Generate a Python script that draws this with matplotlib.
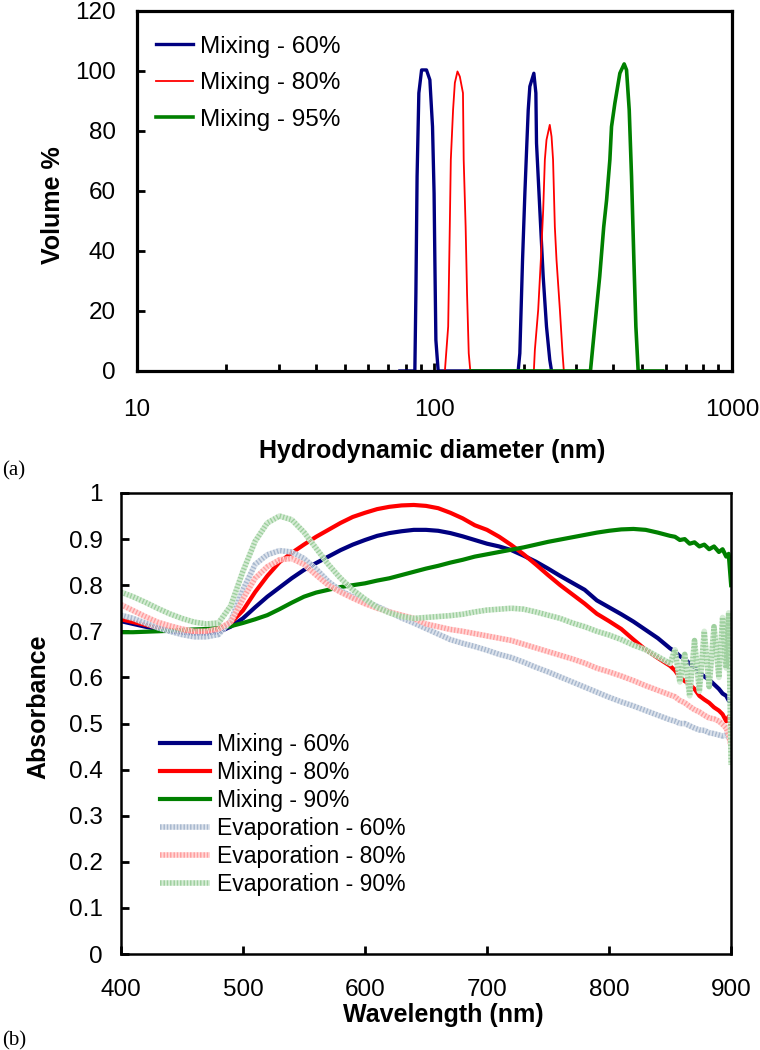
import matplotlib
matplotlib.use("Agg")
import matplotlib.pyplot as plt
import numpy as np

plt.rcParams['font.family'] = ['Liberation Sans', 'DejaVu Sans']

# ---------------- (a) DLS size distributions ----------------
size_60 = [76.6, 86.0, 86.7, 87.5, 88.7, 90.6, 94.1, 96.6, 98.6, 99.8, 100.4, 101.2, 103.0,
           191.3, 193.8, 197.9, 201.5, 204.2, 206.8, 209.4, 216.0, 219.4, 220.5, 226.2,
           232.2, 238.2, 244.3, 247.7]
vol_60 = [0, 0, 25.9, 64.8, 92.6, 100.3, 100.3, 97.0, 81.4, 59.2, 37.0, 10.3, 0,
          0, 5.9, 37.0, 59.2, 73.7, 87.0, 94.8, 99.2, 92.6, 75.9, 53.7,
          31.4, 14.8, 3.7, 0]

size_80 = [100.5, 108.5, 111.3, 112.7, 113.6, 115.6, 117.2, 119.6, 121.8, 124.8, 125.5,
           127.4, 128.8, 130.5, 132.1,
           216.0, 217.7, 223.4, 228.0, 232.2, 235.2, 238.2, 244.3, 247.7, 250.6, 254.1,
           257.4, 264.2, 269.7, 272.4]
vol_80 = [0, 0, 14.8, 48.0, 70.4, 87.0, 96.0, 99.8, 98.1, 92.6, 70.4,
          48.0, 25.9, 5.9, 0,
          0, 7.0, 20.4, 37.0, 53.7, 70.4, 77.0, 82.0, 78.1, 70.4, 48.0,
          37.0, 20.4, 5.9, 0]

size_95 = [132.0, 334.7, 346.0, 359.5, 370.9, 379.2, 389.0, 394.0, 404.3, 420.3, 434.5,
           442.5, 451.8, 460.0, 468.4, 475.7, 484.2, 586.0]
vol_95 = [0, 0, 14.8, 31.4, 48.0, 56.9, 70.4, 81.4, 89.2, 99.2, 102.3,
          100.3, 87.0, 64.8, 37.0, 14.8, 0, 0]

# ---------------- (b) UV-vis absorbance ----------------
wavelength = list(range(400, 851, 10)) + [854, 858, 862, 866, 870, 874, 878, 882,
                                          886, 890, 893, 896, 898, 900]

mix_60 = [0.722, 0.716, 0.710, 0.705, 0.700, 0.697, 0.695, 0.695, 0.698, 0.710,
          0.728, 0.752, 0.775, 0.795, 0.815, 0.833, 0.848, 0.862, 0.876, 0.888,
          0.898, 0.907, 0.913, 0.917, 0.920, 0.920, 0.918, 0.913, 0.906, 0.898,
          0.890, 0.884, 0.876, 0.864, 0.851, 0.836, 0.820, 0.805, 0.790, 0.767,
          0.752, 0.737, 0.721, 0.703, 0.685, 0.663,
          0.656, 0.646, 0.640, 0.630, 0.622, 0.610, 0.602, 0.595, 0.585, 0.575,
          0.565, 0.560, 0.550, 0.545]
mix_80 = [0.726, 0.720, 0.714, 0.708, 0.703, 0.700, 0.699, 0.700, 0.705, 0.718,
          0.745, 0.785, 0.820, 0.850, 0.870, 0.888, 0.905, 0.920, 0.935, 0.948,
          0.957, 0.965, 0.970, 0.973, 0.974, 0.972, 0.967, 0.957, 0.945, 0.930,
          0.920, 0.905, 0.887, 0.867, 0.845, 0.822, 0.800, 0.780, 0.760, 0.738,
          0.722, 0.705, 0.682, 0.660, 0.642, 0.625,
          0.615, 0.600, 0.592, 0.585, 0.575, 0.560, 0.552, 0.545, 0.535, 0.528,
          0.520, 0.505, 0.515, 0.490]
mix_90 = [0.698, 0.698, 0.699, 0.700, 0.701, 0.703, 0.704, 0.705, 0.707, 0.711,
          0.718, 0.726, 0.735, 0.748, 0.762, 0.775, 0.784, 0.790, 0.796, 0.800,
          0.804, 0.810, 0.815, 0.822, 0.829, 0.836, 0.842, 0.849, 0.855, 0.862,
          0.867, 0.872, 0.877, 0.882, 0.888, 0.894, 0.899, 0.904, 0.909, 0.914,
          0.918, 0.921, 0.922, 0.920, 0.914, 0.907,
          0.905, 0.898, 0.900, 0.890, 0.893, 0.884, 0.888, 0.878, 0.884, 0.872,
          0.878, 0.862, 0.868, 0.800]
evap_60 = [0.735, 0.728, 0.718, 0.708, 0.700, 0.693, 0.688, 0.688, 0.693, 0.722,
           0.790, 0.845, 0.866, 0.875, 0.872, 0.858, 0.835, 0.808, 0.788, 0.775,
           0.765, 0.754, 0.742, 0.729, 0.718, 0.706, 0.694, 0.682, 0.674, 0.667,
           0.659, 0.650, 0.643, 0.633, 0.622, 0.612, 0.601, 0.590, 0.579, 0.568,
           0.557, 0.547, 0.538, 0.528, 0.518, 0.508,
           0.505, 0.500, 0.500, 0.495, 0.490, 0.486, 0.485, 0.480, 0.478, 0.475,
           0.473, 0.475, 0.470, 0.465]
evap_80 = [0.758, 0.745, 0.732, 0.720, 0.712, 0.705, 0.700, 0.700, 0.705, 0.720,
           0.770, 0.815, 0.840, 0.855, 0.858, 0.845, 0.822, 0.800, 0.785, 0.772,
           0.760, 0.750, 0.742, 0.735, 0.728, 0.716, 0.710, 0.704, 0.700, 0.695,
           0.690, 0.685, 0.680, 0.672, 0.664, 0.656, 0.648, 0.640, 0.631, 0.620,
           0.612, 0.603, 0.593, 0.582, 0.572, 0.562,
           0.558, 0.550, 0.545, 0.537, 0.530, 0.525, 0.518, 0.512, 0.510, 0.505,
           0.498, 0.490, 0.475, 0.450]
evap_90 = [0.785, 0.775, 0.763, 0.750, 0.738, 0.728, 0.720, 0.716, 0.718, 0.755,
           0.830, 0.895, 0.935, 0.950, 0.942, 0.915, 0.880, 0.845, 0.815, 0.790,
           0.770, 0.752, 0.740, 0.732, 0.728, 0.730, 0.732, 0.734, 0.737, 0.742,
           0.746, 0.748, 0.750, 0.748, 0.742, 0.735, 0.728, 0.718, 0.710, 0.700,
           0.692, 0.682, 0.670, 0.660, 0.645, 0.630,
           0.660, 0.590, 0.650, 0.560, 0.680, 0.570, 0.700, 0.580, 0.710, 0.600,
           0.730, 0.620, 0.740, 0.410]

fig = plt.figure(figsize=(7.6, 10.5), dpi=100)

# ---- top panel ----
ax1 = fig.add_axes([0.180, 0.6467, 0.783, 0.343])
ax1.plot(size_60, vol_60, color='#000080', lw=2.4, label='Mixing - 60%')
ax1.plot(size_80, vol_80, color='#ff0000', lw=1.3, label='Mixing - 80%')
ax1.plot(size_95, vol_95, color='#008000', lw=2.6, label='Mixing - 95%')
ax1.set_xscale('log')
ax1.set_xlim(10, 1000)
ax1.set_ylim(0, 120)
ax1.set_yticks(np.arange(0, 121, 20))
ax1.set_xticks([10, 100, 1000])
ax1.set_xticklabels(['10', '100', '1000'])
ax1.tick_params(axis='both', which='major', direction='in', length=6, width=2,
                labelsize=17.5, top=False, right=False)
ax1.tick_params(axis='x', which='major', pad=20)
ax1.tick_params(axis='y', which='major', pad=15)
ax1.tick_params(axis='x', which='minor', direction='in', length=5, width=2, top=False)
for s in ax1.spines.values():
    s.set_linewidth(2.3)
ax1.set_xlabel('Hydrodynamic diameter (nm)', fontsize=18, fontweight='bold')
ax1.set_ylabel('Volume %', fontsize=18, fontweight='bold')
ax1.xaxis.set_label_coords(0.497, -0.19)
ax1.yaxis.set_label_coords(-0.12, 0.46)
ax1.legend(loc='upper left', bbox_to_anchor=(0.0, 0.985), frameon=False, fontsize=17.5,
           handlelength=1.5, handletextpad=0.3, labelspacing=0.6, borderaxespad=0.4)

# ---- bottom panel ----
ax2 = fig.add_axes([0.159, 0.0914, 0.803, 0.4391])
ax2.plot(wavelength, mix_60, color='#000080', lw=3, label='Mixing - 60%')
ax2.plot(wavelength, mix_80, color='#ff0000', lw=3, label='Mixing - 80%')
ax2.plot(wavelength, mix_90, color='#008000', lw=3, label='Mixing - 90%')
ax2.plot(wavelength, evap_60, color='#a9b9cf', lw=4, ls=(0, (0.3, 0.3)),
         gapcolor='#dde3ec', label='Evaporation - 60%')
ax2.plot(wavelength, evap_80, color='#ff9f9f', lw=4, ls=(0, (0.3, 0.3)),
         gapcolor='#ffd6d6', label='Evaporation - 80%')
ax2.plot(wavelength, evap_90, color='#9fd09f', lw=4, ls=(0, (0.3, 0.3)),
         gapcolor='#d5ecd5', label='Evaporation - 90%')
ax2.set_xlim(400, 900)
ax2.set_ylim(0, 1)
ax2.set_xticks(np.arange(400, 901, 100))
ax2.set_yticks(np.arange(0, 1.01, 0.1))
ax2.set_yticklabels(['0', '0.1', '0.2', '0.3', '0.4', '0.5', '0.6', '0.7', '0.8', '0.9', '1'])
ax2.tick_params(direction='in', length=6, width=2, labelsize=17.5)
ax2.tick_params(axis='x', pad=18)
ax2.tick_params(axis='y', pad=13)
for s in ax2.spines.values():
    s.set_linewidth(1.8)
ax2.set_xlabel('Wavelength (nm)', fontsize=18, fontweight='bold')
ax2.set_ylabel('Absorbance', fontsize=18, fontweight='bold')
ax2.xaxis.set_label_coords(0.528, -0.106)
ax2.yaxis.set_label_coords(-0.116, 0.536)
ax2.legend(loc='upper left', bbox_to_anchor=(0.03, 0.525), frameon=False, fontsize=16.5,
           handlelength=2.2, handletextpad=0.3, labelspacing=0.22)

fig.text(0.003, 0.547, '(a)', family='Liberation Serif', fontsize=15)
fig.text(0.003, 0.004, '(b)', family='Liberation Serif', fontsize=15)

fig.savefig('out.png', dpi=100)
